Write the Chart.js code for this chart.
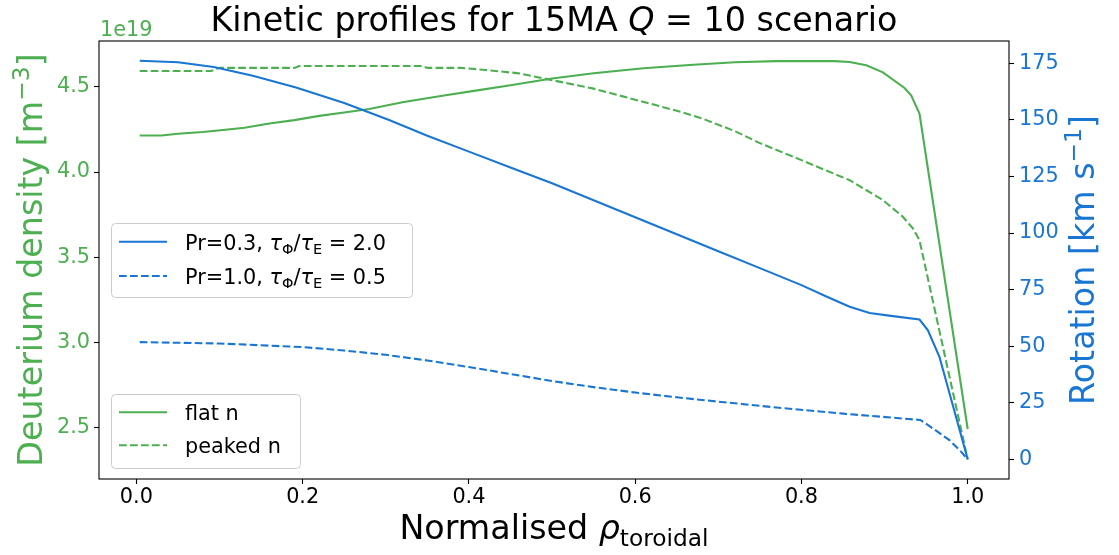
<!DOCTYPE html>
<html>
<head>
<meta charset="utf-8">
<script src="https://cdn.jsdelivr.net/npm/chart.js@4"></script>
<style>
    html, body { margin: 0; padding: 0; background: #ffffff; }
    #wrap { width: 1119px; height: 555px; }
</style>
</head>
<body>
<div id="wrap"><canvas id="chart"></canvas></div>
<script>
// Deuterium density (1e19 m^-3), left axis
var flatRho = [0.004, 0.03, 0.05, 0.08, 0.11, 0.13, 0.16, 0.19, 0.22, 0.25, 0.28, 0.32, 0.37, 0.41, 0.45, 0.50, 0.55, 0.61, 0.67, 0.72, 0.77, 0.84, 0.858, 0.878, 0.898, 0.924, 0.932, 0.942, 1.0];
var flatDensity = [4.215, 4.215, 4.225, 4.235, 4.25, 4.26, 4.285, 4.305, 4.33, 4.35, 4.37, 4.41, 4.45, 4.48, 4.51, 4.55, 4.58, 4.61, 4.63, 4.645, 4.652, 4.652, 4.647, 4.627, 4.586, 4.494, 4.451, 4.344, 2.49];

var peakedRho = [0.004, 0.09, 0.1, 0.19, 0.196, 0.343, 0.35, 0.39, 0.42, 0.46, 0.50, 0.55, 0.60, 0.65, 0.68, 0.72, 0.75, 0.80, 0.858, 0.898, 0.922, 0.934, 0.942, 1.0];
var peakedDensity = [4.594, 4.594, 4.612, 4.612, 4.623, 4.623, 4.612, 4.612, 4.60, 4.58, 4.54, 4.49, 4.425, 4.36, 4.316, 4.24, 4.17, 4.07, 3.952, 3.835, 3.737, 3.669, 3.60, 2.31];

// Rotation (km/s), right axis
var pr03Rho = [0.004, 0.05, 0.093, 0.14, 0.192, 0.25, 0.304, 0.35, 0.40, 0.45, 0.50, 0.55, 0.60, 0.65, 0.70, 0.75, 0.80, 0.83, 0.858, 0.882, 0.91, 0.942, 0.952, 0.966, 1.0];
var pr03Rotation = [176.2, 175.5, 173.4, 169.5, 164.3, 157.5, 150, 143, 136, 129, 122, 114.5, 107, 99.5, 92, 84.5, 77, 72, 67.4, 64.7, 63.3, 61.8, 57.1, 45.3, 0];

var pr10Rho = [0.004, 0.1, 0.2, 0.25, 0.3, 0.35, 0.4, 0.45, 0.5, 0.55, 0.6, 0.65, 0.7, 0.767, 0.85, 0.943, 0.958, 0.978, 0.992, 1.0];
var pr10Rotation = [51.8, 51.2, 49.6, 48.1, 46.2, 43.7, 40.8, 37.7, 34.6, 31.9, 29.5, 27.4, 25.5, 23.0, 20.2, 17.4, 13.7, 8.5, 3.4, 0];

var rhoTicks = [0.0, 0.2, 0.4, 0.6, 0.8, 1.0];
var densityTicks = [2.5, 3.0, 3.5, 4.0, 4.5];
var rotationTicks = [0, 25, 50, 75, 100, 125, 150, 175];

var green = "#4CAF50";
var blue = "#1976D2";
var font_family = '"DejaVu Sans", sans-serif';
var tick_size = 20.8;
var label_size = 33.3;

// Rich text parts: t = text, i = italic, s = size factor, dy = baseline shift in em (down positive)
var titleParts = [{"t": "Kinetic profiles for 15MA "}, {"t": "Q", "i": 1}, {"t": " = 10 scenario"}];
var xLabelParts = [{"t": "Normalised "}, {"t": "\u03c1", "i": 1}, {"t": "toroidal", "s": 0.7, "dy": 0.2}];
var yLabelParts = [{"t": "Deuterium density [m"}, {"t": "\u22123", "s": 0.7, "dy": -0.38}, {"t": "]"}];
var y2LabelParts = [{"t": "Rotation [km s"}, {"t": "\u22121", "s": 0.7, "dy": -0.38}, {"t": "]"}];

var rotationLegend = [
    [{"t": "Pr=0.3, "}, {"t": "\u03c4", "i": 1}, {"t": "\u03a6", "s": 0.7, "dy": 0.2}, {"t": "/"}, {"t": "\u03c4", "i": 1}, {"t": "E", "s": 0.7, "dy": 0.2}, {"t": " = 2.0"}],
    [{"t": "Pr=1.0, "}, {"t": "\u03c4", "i": 1}, {"t": "\u03a6", "s": 0.7, "dy": 0.2}, {"t": "/"}, {"t": "\u03c4", "i": 1}, {"t": "E", "s": 0.7, "dy": 0.2}, {"t": " = 0.5"}]
];
var densityLegend = [[{"t": "flat n"}], [{"t": "peaked n"}]];

var dash = [7.7, 3.3];

function to_points (xs, ys) {
    return xs.map(function (x, i) { return {"x": x, "y": ys[i]}; });
}

function font_for (part, size) {
    return (part.i ? "italic " : "") + (size * (part.s || 1)).toFixed(2) + "px " + font_family;
}

function draw_rich (ctx, parts, x, y, size, color, align, angle) {
    ctx.save();
    ctx.translate(x, y);

    if (angle) {
        ctx.rotate(angle);
    }

    ctx.fillStyle = color;
    ctx.textBaseline = "alphabetic";
    ctx.textAlign = "left";

    var widths = parts.map(function (p) {
        ctx.font = font_for(p, size);
        return ctx.measureText(p.t).width;
    });

    var total = widths.reduce(function (a, b) { return a + b; }, 0);
    var cx = align === "center" ? -total / 2 : (align === "right" ? -total : 0);

    parts.forEach(function (p, i) {
        ctx.font = font_for(p, size);
        ctx.fillText(p.t, cx, (p.dy || 0) * size);
        cx += widths[i];
    });

    ctx.restore();
}

function draw_legend (ctx, box, rows, entries) {
    ctx.save();
    ctx.beginPath();
    ctx.roundRect(box[0] + 0.5, box[1] + 0.5, box[2] - box[0], box[3] - box[1], 4);
    ctx.fillStyle = "rgba(255,255,255,0.8)";
    ctx.fill();
    ctx.strokeStyle = "#cccccc";
    ctx.lineWidth = 1;
    ctx.stroke();

    entries.forEach(function (entry, i) {
        var y = rows[i];

        ctx.beginPath();
        ctx.setLineDash(entry.dataset.borderDash || []);
        ctx.strokeStyle = entry.dataset.borderColor;
        ctx.lineWidth = 2.1;
        ctx.moveTo(box[0] + 8, y);
        ctx.lineTo(box[0] + 56, y);
        ctx.stroke();
        ctx.setLineDash([]);

        draw_rich(ctx, entry.parts, box[0] + 74, y + 8, tick_size, "#000000", "left", 0);
    });

    ctx.restore();
}

var decorations = {
    "id": "decorations",
    "afterDatasetsDraw": function (chart) {
        var ctx = chart.ctx;
        var area = chart.chartArea;

        // Full frame (matplotlib spines)
        ctx.save();
        ctx.strokeStyle = "#000000";
        ctx.lineWidth = 1.1;
        ctx.strokeRect(area.left, area.top, area.right - area.left, area.bottom - area.top);
        ctx.restore();
    },
    "afterDraw": function (chart) {
        var ctx = chart.ctx;
        var area = chart.chartArea;
        var mid_x = (area.left + area.right) / 2;
        var mid_y = (area.top + area.bottom) / 2;
        var ds = chart.data.datasets;

        draw_rich(ctx, titleParts, mid_x, 31, label_size, "#000000", "center", 0);
        draw_rich(ctx, [{"t": "1e19"}], area.left + 1, 36, tick_size, green, "left", 0);
        draw_rich(ctx, xLabelParts, mid_x, 539, label_size, "#000000", "center", 0);
        draw_rich(ctx, yLabelParts, 41.5, mid_y, label_size, green, "center", -Math.PI / 2);
        draw_rich(ctx, y2LabelParts, 1094, mid_y, label_size, blue, "center", -Math.PI / 2);

        draw_legend(ctx, [111, 223, 412, 297], [241.7, 276], [
            {"dataset": ds[0], "parts": rotationLegend[0]},
            {"dataset": ds[1], "parts": rotationLegend[1]}
        ]);

        draw_legend(ctx, [111, 394, 300, 468], [412.3, 445.3], [
            {"dataset": ds[2], "parts": densityLegend[0]},
            {"dataset": ds[3], "parts": densityLegend[1]}
        ]);
    }
};

function fixed_ticks (values) {
    return function (axis) {
        axis.ticks = values.map(function (v) { return {"value": v}; });
    };
}

var config = {
    "type": "line",
    "data": {
        "datasets": [
            {"label": "Pr=0.3", "data": to_points(pr03Rho, pr03Rotation), "yAxisID": "y2", "borderColor": blue, "borderWidth": 2.1},
            {"label": "Pr=1.0", "data": to_points(pr10Rho, pr10Rotation), "yAxisID": "y2", "borderColor": blue, "borderWidth": 2.1, "borderDash": dash},
            {"label": "flat n", "data": to_points(flatRho, flatDensity), "yAxisID": "y", "borderColor": green, "borderWidth": 2.1},
            {"label": "peaked n", "data": to_points(peakedRho, peakedDensity), "yAxisID": "y", "borderColor": green, "borderWidth": 2.1, "borderDash": dash}
        ]
    },
    "options": {
        "responsive": true,
        "maintainAspectRatio": false,
        "animation": false,
        "devicePixelRatio": 1,
        "layout": {"padding": {"top": 41, "left": 0, "right": 0, "bottom": 0}},
        "elements": {
            "point": {"radius": 0},
            "line": {"tension": 0, "fill": false, "borderCapStyle": "butt"}
        },
        "scales": {
            "x": {
                "type": "linear",
                "min": -0.045,
                "max": 1.0497,
                "afterBuildTicks": fixed_ticks(rhoTicks),
                "afterFit": function (axis) { axis.height = 76; },
                "grid": {"drawOnChartArea": false, "drawTicks": true, "tickLength": 5, "tickWidth": 1.1, "tickColor": "#000000"},
                "border": {"display": false},
                "ticks": {
                    "color": "#000000",
                    "padding": 1,
                    "maxRotation": 0,
                    "font": {"family": font_family, "size": tick_size},
                    "callback": function (v) { return v.toFixed(1); }
                }
            },
            "y": {
                "type": "linear",
                "position": "left",
                "min": 2.196,
                "max": 4.770,
                "afterBuildTicks": fixed_ticks(densityTicks),
                "afterFit": function (axis) { axis.width = 99; },
                "grid": {"drawOnChartArea": false, "drawTicks": true, "tickLength": 5, "tickWidth": 1.1, "tickColor": "#000000"},
                "border": {"display": false},
                "ticks": {
                    "color": green,
                    "padding": 4,
                    "font": {"family": font_family, "size": tick_size},
                    "callback": function (v) { return v.toFixed(1); }
                }
            },
            "y2": {
                "type": "linear",
                "position": "right",
                "min": -8.7,
                "max": 184.9,
                "afterBuildTicks": fixed_ticks(rotationTicks),
                "afterFit": function (axis) { axis.width = 110; },
                "grid": {"drawOnChartArea": false, "drawTicks": true, "tickLength": 5, "tickWidth": 1.1, "tickColor": "#000000"},
                "border": {"display": false},
                "ticks": {
                    "color": blue,
                    "padding": 5,
                    "font": {"family": font_family, "size": tick_size},
                    "callback": function (v) { return String(v); }
                }
            }
        },
        "plugins": {
            "legend": {"display": false},
            "title": {"display": false},
            "tooltip": {"enabled": false}
        }
    },
    "plugins": [decorations]
};

new Chart(document.getElementById("chart").getContext("2d"), config);
</script>
</body>
</html>
